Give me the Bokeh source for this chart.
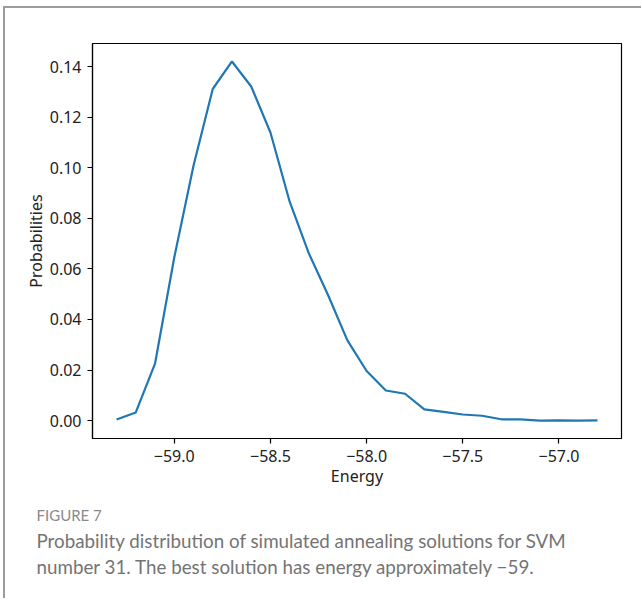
from bokeh.plotting import figure
from bokeh.layouts import column
from bokeh.models import FixedTicker, Range1d, ColumnDataSource, Title
from bokeh.embed import file_html
from bokeh.resources import INLINE

# ---- data ----
energy = [-59.3, -59.2, -59.1, -59.0, -58.9, -58.8, -58.7, -58.6, -58.5, -58.4,
          -58.3, -58.2, -58.1, -58.0, -57.9, -57.8, -57.7, -57.6, -57.5, -57.4,
          -57.3, -57.2, -57.1, -57.0, -56.9, -56.8]
probabilities = [0.0004, 0.0032, 0.0225, 0.0645, 0.1008, 0.1312, 0.1421, 0.1322, 0.1140, 0.0866,
                 0.0661, 0.0496, 0.0317, 0.0196, 0.0119, 0.0106, 0.0044, 0.0034, 0.0024, 0.0019,
                 0.0005, 0.0005, 0.0000, 0.0001, 0.0000, 0.0001]

x_ticks = [-59.0, -58.5, -58.0, -57.5, -57.0]
x_tick_labels = ["\u221259.0", "\u221258.5", "\u221258.0", "\u221257.5", "\u221257.0"]
y_ticks = [0.00, 0.02, 0.04, 0.06, 0.08, 0.10, 0.12, 0.14]
y_tick_labels = ["0.00", "0.02", "0.04", "0.06", "0.08", "0.10", "0.12", "0.14"]

x_label = "Energy"
y_label = "Probabilities"
fig_title = "FIGURE 7"
caption_lines = [
    "Probability distribution of simulated annealing solutions for SVM",
    "number 31. The best solution has energy approximately \u221259.",
]

# ---- ranges with matplotlib-like 5% margins ----
xmin, xmax = min(energy), max(energy)
ymin, ymax = min(probabilities), max(probabilities)
xm = 0.05 * (xmax - xmin)
ym = 0.05 * (ymax - ymin)

W = 636
H = 590
FRAME_L, FRAME_R, FRAME_T, FRAME_B = 87, 20, 35, 160
TICK_FONT = "Noto Sans"

p = figure(width=W, height=H,
           x_range=Range1d(xmin - xm, xmax + xm),
           y_range=Range1d(ymin - ym, ymax + ym),
           toolbar_location=None, output_backend="svg",
           min_border_left=FRAME_L, min_border_right=FRAME_R,
           min_border_top=FRAME_T, min_border_bottom=FRAME_B)
p.grid.visible = False
p.outline_line_color = "black"
p.outline_line_width = 1.2
p.background_fill_color = "white"
p.border_fill_color = "white"

src = ColumnDataSource(data=dict(x=energy, y=probabilities))
p.line("x", "y", source=src, line_color="#1f77b4", line_width=2.2)

p.xaxis.ticker = FixedTicker(ticks=x_ticks)
p.xaxis.major_label_overrides = dict(zip(x_ticks, x_tick_labels))
p.yaxis.ticker = FixedTicker(ticks=y_ticks)
p.yaxis.major_label_overrides = dict(zip(y_ticks, y_tick_labels))

for ax in (p.xaxis[0], p.yaxis[0]):
    ax.minor_tick_line_color = None
    ax.major_tick_in = 0
    ax.major_tick_out = 5
    ax.major_tick_line_color = "black"
    ax.major_tick_line_width = 1.2
    ax.axis_line_color = "black"
    ax.axis_line_width = 1.2
    ax.major_label_text_font = TICK_FONT
    ax.major_label_text_font_size = "16px"
    ax.major_label_text_color = "#222222"
    ax.major_label_standoff = 6
    ax.axis_label_text_font = TICK_FONT
    ax.axis_label_text_font_size = "16px"
    ax.axis_label_text_font_style = "normal"
    ax.axis_label_text_color = "#222222"
    ax.axis_label_standoff = 0

p.xaxis.axis_label = x_label
p.yaxis.axis_label = y_label

# ---- caption as titles below the plot ----
p.add_layout(Title(text=fig_title, align="left", offset=-56, standoff=28,
                   text_font="Lato", text_font_size="15px", text_color="#8a8a8a",
                   text_font_style="normal"), "below")
p.add_layout(Title(text="\n".join(caption_lines), align="left", offset=-56, standoff=-21,
                   text_font="Lato", text_font_size="18.8px", text_color="#747474",
                   text_font_style="normal", text_line_height=1.13), "below")

layout = column(p, styles={"border-top": "2px solid #9c9c9c",
                           "border-left": "2px solid #9c9c9c",
                           "margin-left": "3px", "margin-top": "6px"})

open("out.html", "w").write(file_html(layout, INLINE))
